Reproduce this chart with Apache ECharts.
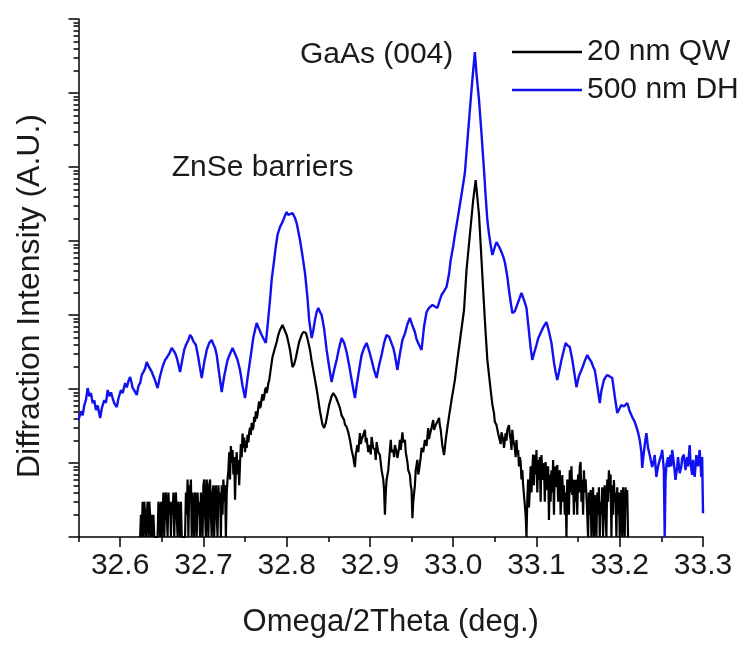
<!DOCTYPE html>
<html><head><meta charset="utf-8">
<script src="https://cdn.jsdelivr.net/npm/echarts@6/dist/echarts.min.js"></script>
<style>html,body{margin:0;padding:0;background:#fff}#c{width:744px;height:647px}</style>
</head><body><div id="c"></div>
<script>
const xMajorTicks = [32.6, 32.7, 32.8, 32.9, 33.0, 33.1, 33.2, 33.3];
const xMinorTicks = [32.55, 32.65, 32.75, 32.85, 32.95, 33.05, 33.15, 33.25];
const yMajorTicks = [1, 10, 100, 1000, 10000, 100000, 1000000, 10000000];
const yMinorTicks = [2,3,4,5,6,7,8,9, 20,30,40,50,60,70,80,90, 200,300,400,500,600,700,800,900,
  2000,3000,4000,5000,6000,7000,8000,9000, 20000,30000,40000,50000,60000,70000,80000,90000,
  200000,300000,400000,500000,600000,700000,800000,900000, 2000000,3000000,4000000,5000000,6000000,7000000,8000000,9000000];

const seriesNames = ['20 nm QW', '500 nm DH'];

// 20 nm QW (black)
const qwData = [
 [32.624,1],[32.625,2],[32.626,1],[32.627,3],[32.628,1],[32.629,3],[32.630,2],[32.631,1],[32.632,2],[32.633,3],
 [32.634,1],[32.635,3],[32.636,2],[32.637,1],[32.638,2],[32.639,1],[32.640,2],[32.641,1],[32.645,1],[32.646,3],
 [32.647,2],[32.648,1],[32.649,3],[32.650,1],[32.651,2],[32.652,4],[32.653,1],[32.654,3],[32.655,4],[32.656,2],
 [32.657,1],[32.658,4],[32.659,2],[32.660,3],[32.661,1],[32.662,3],[32.663,2],[32.664,4],[32.665,1],[32.666,3],
 [32.667,4],[32.668,2],[32.669,1],[32.670,3],[32.671,2],[32.672,1],[32.673,3],[32.674,1],[32.678,1],[32.679,4],
 [32.680,2],[32.681,6],[32.682,1],[32.683,5],[32.684,3],[32.685,6],[32.686,1],[32.687,4],[32.688,2],[32.689,1],
 [32.690,4],[32.691,3],[32.692,1],[32.693,4],[32.694,2],[32.695,3],[32.696,1],[32.697,4],[32.698,2],[32.699,1],
 [32.700,5],[32.701,6],[32.702,2],[32.703,1],[32.704,6],[32.705,3],[32.706,1],[32.707,5],[32.708,6],[32.709,2],
 [32.710,1],[32.711,4],[32.712,5],[32.713,1],[32.714,3],[32.715,5],[32.716,2],[32.717,1],[32.718,5],[32.719,3],
 [32.720,4],[32.721,1],[32.722,5],[32.723,2],[32.724,6],[32.725,3],[32.726,5],[32.727,1],[32.728,4],[32.729,6],
 [32.730,8],[32.731,14],[32.732,6],[32.733,17],[32.734,10],[32.735,15],[32.736,7],[32.737,12],[32.738,3.2],[32.739,9],
 [32.740,14],[32.741,7],[32.742,11],[32.743,5],[32.744,10],[32.745,18],[32.746,12],[32.747,25],[32.748,16],[32.749,22],
 [32.750,14],[32.751,20],[32.752,16],[32.753,24],[32.754,19],[32.755,26],[32.756,30],[32.757,24],[32.758,35],[32.759,28],
 [32.760,30],[32.761,42],[32.762,36],[32.763,50],[32.764,40],[32.765,45],[32.766,58],[32.767,68],[32.768,55],[32.769,60],
 [32.770,75],[32.771,85],[32.772,70],[32.773,78],[32.774,95],[32.775,105],[32.776,88],[32.777,100],[32.778,120],[32.779,130],
 [32.781,190],[32.783,271],[32.786,360],[32.788,432],[32.790,540],[32.792,627],[32.795,733],[32.797,690],[32.800,537],
 [32.802,430],[32.804,337],[32.807,198],[32.809,215],[32.811,262],[32.813,340],[32.815,432],[32.818,540],
 [32.820,589],[32.823,575],[32.825,480],[32.828,337],[32.830,240],[32.833,155],[32.836,100],[32.838,71],[32.840,50],
 [32.842,38],[32.843,33],[32.845,29.7],[32.847,34.8],[32.849,46],[32.851,61],[32.854,80],
 [32.856,88],[32.859,78],[32.862,64],[32.864,55],[32.866,44],[32.869,38],[32.870,33],[32.872,30.7],[32.874,26],[32.876,20.5],
 [32.878,15],[32.880,12],[32.881,10],[32.882,8.8],[32.883,13],[32.885,17.5],[32.886,14],[32.888,25.4],[32.889,18],[32.890,20.5],
 [32.892,24],[32.894,28],[32.895,19],[32.896,21.8],[32.898,14],[32.900,17.5],[32.901,13],[32.902,22.5],[32.904,16],[32.906,15],
 [32.907,11],[32.908,19.2],[32.910,14],[32.912,12.8],[32.913,10],
 [32.914,8],[32.916,6],[32.917,4.3],[32.918,2],[32.919,4],[32.920,5.9],[32.922,8],[32.923,11],[32.924,15],[32.925,20.5],
 [32.926,14],[32.928,15],[32.929,12],[32.930,17.5],[32.932,14],[32.933,11.7],[32.935,16],
 [32.936,20.5],[32.937,15],[32.939,26],[32.940,19],[32.942,20.5],[32.943,14],[32.945,10.3],[32.946,8],[32.948,6.9],[32.949,5],
 [32.950,4.3],[32.951,1.8],[32.952,3],[32.954,5],[32.955,8],[32.957,11],
 [32.958,7],[32.959,8],[32.961,12],[32.962,16],[32.964,14],[32.966,20.5],[32.968,17],[32.970,29.7],[32.971,21],[32.972,24],
 [32.974,30],[32.976,38],[32.977,28],[32.979,32.5],[32.981,36],[32.983,40.6],[32.984,32],[32.985,28],[32.987,17],
 [32.989,12.8],[32.990,16],[32.991,20.5],[32.993,30],[32.995,43],[32.998,71],[33.002,132],[33.005,247],[33.009,537],[33.013,1169],[33.016,4056],
 [33.020,12050],[33.024,35800],[33.027,66700],[33.031,22450],[33.034,5540],[33.038,856],[33.041,247],[33.045,96.9],
 [33.047,62],[33.049,47],[33.050,36],[33.052,32.5],[33.054,25],[33.056,24],[33.057,18],[33.058,26],[33.060,20.5],[33.061,16],
 [33.063,25.4],[33.064,20],[33.065,28],[33.067,32.5],[33.068,24],[33.069,20.5],[33.070,15],[33.071,28],[33.072,21],[33.074,16],
 [33.075,12],[33.076,20.5],[33.077,13],[33.078,15],[33.079,9],[33.080,12],[33.081,10.3],[33.082,6],[33.083,8],[33.084,5],
 [33.086,4.7],[33.087,2],[33.088,1],[33.089,3.2],[33.090,6],[33.091,2.5],[33.092,4.3],[33.093,9],[33.094,4],[33.095,8],
 [33.096,13],[33.097,5],[33.098,12.8],[33.099,7],[33.100,15],[33.101,4],[33.102,11],[33.103,6],[33.104,12],[33.105,3],
 [33.106,12.8],[33.107,7],[33.108,5.9],[33.109,10],[33.110,3],[33.111,10.3],[33.112,6],[33.113,4.3],[33.114,9],[33.115,1.7],
 [33.116,7],[33.117,3],[33.118,8],[33.119,4],[33.120,11],[33.121,2],[33.122,9],[33.123,4.7],[33.124,7],[33.125,9.4],
 [33.126,3],[33.127,5.9],[33.128,8],[33.129,2],[33.130,2.1],[33.131,6.9],[33.132,3],[33.133,5],[33.134,2],[33.135,4],
 [33.136,1],[33.137,6],[33.138,5.9],[33.139,2],[33.140,8],[33.141,4],[33.142,9],[33.143,3.7],[33.144,6],[33.145,2],
 [33.146,5.9],[33.147,3],[33.148,6],[33.149,2],[33.150,7],[33.151,4],[33.152,9],[33.153,10.3],[33.154,3],[33.155,6],
 [33.156,2],[33.157,8],[33.158,4],[33.159,6],[33.160,3.7],[33.161,2],[33.162,1],[33.163,4],[33.164,2],[33.165,4.3],
 [33.166,1],[33.167,3],[33.168,4.7],[33.169,1],[33.170,3.7],[33.171,2],[33.172,1],[33.173,4],[33.174,2],[33.175,4.7],
 [33.176,1],[33.177,3],[33.178,2],[33.179,4.7],[33.180,1],[33.181,3.2],[33.182,5],[33.183,2],[33.184,1],[33.185,6],
 [33.186,3],[33.187,8],[33.188,4],[33.189,7],[33.190,1],[33.191,5],[33.192,2],[33.193,5.9],[33.194,3],[33.195,4],
 [33.196,1],[33.197,4.7],[33.198,2],[33.199,4],[33.200,1],[33.201,3.2],[33.202,4.3],[33.203,1],[33.204,4.7],[33.205,2],
 [33.206,1],[33.207,4.7],[33.208,3],[33.209,4.3],[33.210,1]
];

// 500 nm DH (blue)
const dhData = [
 [32.550,38.1],[32.553,50],[32.555,44],[32.557,60.8],[32.559,72],[32.561,103],[32.563,80],[32.565,88],[32.567,64.7],[32.569,70],
 [32.571,52],[32.573,60],[32.576,40.6],[32.578,55],[32.581,71],[32.583,65],[32.585,96.9],[32.587,80],[32.589,90],[32.591,75.5],
 [32.593,64],[32.596,57.1],[32.598,75],[32.601,96.9],[32.603,88],[32.606,120],[32.608,105],[32.610,128],[32.612,145],
 [32.614,118],[32.615,103],[32.617,96],[32.620,83],[32.622,110],[32.624,120],[32.626,155],[32.628,170],[32.630,190],[32.632,232],
 [32.634,205],[32.636,195],[32.638,170],[32.641,140],[32.643,120],[32.645,103],[32.648,150],[32.651,200],
 [32.654,247],[32.656,265],[32.659,300],[32.662,358],[32.665,320],[32.667,288],[32.669,240],[32.672,170],[32.675,260],[32.677,340],
 [32.679,393],[32.682,460],[32.684,537],[32.686,500],[32.688,440],[32.691,393],[32.694,260],[32.696,190],[32.698,141],[32.701,230],[32.704,337],
 [32.707,420],[32.710,459],[32.712,400],[32.714,360],[32.716,288],[32.719,160],[32.722,91],[32.725,150],[32.729,247],[32.732,300],[32.735,358],
 [32.738,300],[32.741,247],[32.744,180],[32.747,110],[32.750,75.5],[32.753,140],[32.757,288],[32.760,500],[32.764,780],
 [32.767,640],[32.770,537],[32.773,460],[32.775,419],[32.777,700],[32.780,1595],[32.782,3000],[32.785,5540],[32.787,8500],[32.789,12050],[32.792,15500],[32.795,18070],
 [32.798,22000],[32.800,24660],[32.802,22500],[32.804,21780],
 [32.807,23890],[32.810,20500],[32.812,17500],[32.816,10320],[32.819,6300],[32.822,3697],[32.825,1700],[32.827,856],[32.830,489],[32.832,620],[32.834,856],[32.836,1100],[32.838,1244],
 [32.840,1100],[32.842,1000],[32.845,650],[32.848,337],[32.851,200],[32.854,124],[32.857,180],[32.860,247],[32.863,360],[32.866,489],[32.869,420],[32.872,316],[32.875,210],[32.877,155],[32.880,100],[32.882,75.5],[32.884,110],[32.887,181],
 [32.890,288],[32.893,360],[32.896,419],[32.899,330],[32.902,247],[32.905,180],[32.908,141],[32.911,210],[32.914,288],[32.917,420],[32.920,537],[32.923,510],[32.925,489],[32.928,360],[32.930,288],[32.933,181],
 [32.936,300],[32.939,459],[32.942,560],[32.945,750],[32.948,911],[32.951,720],[32.954,589],[32.956,470],[32.959,393],[32.962,337],[32.965,700],[32.968,1098],[32.971,1250],[32.975,1365],[32.978,1300],[32.981,1244],[32.984,1600],[32.986,1862],
 [32.989,2100],[32.992,2390],[32.995,3600],[32.997,5540],[33.000,8500],[33.002,12050],[33.005,19000],[33.008,30650],[33.011,50000],[33.014,82960],[33.017,220000],[33.020,589000],[33.023,1500000],[33.026,3580000],[33.028,1800000],[33.031,804000],
 [33.034,280000],[33.037,91000],[33.039,40000],[33.041,19230],[33.043,12500],[33.045,8830],[33.047,6470],[33.050,8300],[33.052,9690],[33.055,8400],[33.057,7550],[33.060,6200],[33.062,5200],[33.065,3300],[33.067,2177],
 [33.069,1500],[33.071,1064],[33.074,1120],[33.076,1169],[33.079,1600],[33.082,1983],[33.085,1600],[33.088,1244],[33.091,600],[33.093,360],[33.095,247],[33.097,300],[33.100,393],[33.102,480],[33.105,571],[33.108,680],[33.112,804],[33.115,600],[33.118,419],
 [33.121,230],[33.123,170],[33.125,132],[33.128,190],[33.130,247],[33.133,340],[33.135,419],[33.137,390],[33.140,370],[33.143,250],[33.146,150],[33.148,106],[33.151,150],[33.155,192],[33.158,240],[33.161,288],[33.164,250],[33.166,232],[33.168,200],[33.170,181],
 [33.173,110],[33.176,64.7],[33.178,95],[33.181,132],[33.183,145],[33.185,155],[33.188,148],[33.191,141],[33.194,80],[33.197,47.4],[33.200,55],[33.202,60.8],[33.205,58],[33.209,64.7],[33.212,50],[33.215,41.8],[33.218,36],[33.220,30.7],
 [33.222,26],[33.224,20.5],[33.226,14],[33.227,8.56],[33.229,14],[33.230,17.5],[33.232,25.4],[33.234,16],[33.236,12.8],[33.238,10],[33.239,8.83],[33.241,11],[33.242,12.8],[33.243,9],[33.244,6.47],[33.246,9],[33.248,11],
 [33.250,13],[33.251,15],[33.253,8],[33.254,1],[33.255,6],[33.256,9.4],[33.258,12],[33.259,8.8],[33.260,11],[33.261,12.8],[33.262,9],[33.263,15],[33.265,10],[33.267,5.9],[33.269,9],[33.270,12],[33.272,7.3],[33.274,9],[33.275,11.7],
 [33.277,13],[33.279,8],[33.281,12],[33.282,9],[33.284,17.5],[33.285,10],[33.287,6.9],[33.288,11],[33.290,6.47],[33.291,9],[33.292,12.8],[33.294,9],[33.296,15],[33.297,10],[33.298,6.47],[33.299,12],[33.300,2.1]
];

const annotations = [
  {text: 'ZnSe barriers', x: 32.771, y: 97000},
  {text: 'GaAs (004)', x: 32.908, y: 3260000}
];

const FONT = "'Liberation Sans', Arial, sans-serif";
const chart = echarts.init(document.getElementById('c'), null, {renderer: 'canvas'});
const axisLineStyle = {color: '#000', width: 1.5};
chart.setOption({
  animation: false,
  backgroundColor: '#fff',
  textStyle: {fontFamily: FONT},
  grid: {left: 78.5, right: 41, top: 19, bottom: 110},
  legend: {
    orient: 'vertical', left: 507, top: 32, itemGap: 8,
    itemWidth: 70, itemHeight: 2.5, icon: 'rect',
    textStyle: {fontFamily: FONT, fontSize: 30, color: '#1a1a1a'},
    data: seriesNames
  },
  xAxis: [{
    type: 'value', min: 32.55, max: 33.3,
    name: 'Omega/2Theta (deg.)', nameLocation: 'middle', nameGap: 70,
    nameTextStyle: {fontFamily: FONT, fontSize: 31, color: '#1a1a1a'},
    axisLine: {show: true, lineStyle: axisLineStyle},
    axisTick: {show: true, inside: false, length: 10, customValues: xMajorTicks, lineStyle: axisLineStyle},
    axisLabel: {show: true, customValues: xMajorTicks, margin: 14, fontSize: 30, color: '#1a1a1a', fontFamily: FONT,
      formatter: v => Number(v).toFixed(1)},
    splitLine: {show: false}
  }, {
    type: 'value', min: 32.55, max: 33.3, position: 'bottom',
    axisLine: {show: false},
    axisTick: {show: true, length: 5, customValues: xMinorTicks, lineStyle: axisLineStyle},
    axisLabel: {show: false},
    splitLine: {show: false}
  }],
  yAxis: [{
    type: 'log', logBase: 10, min: 1, max: 10000000,
    name: 'Diffraction Intensity (A.U.)', nameLocation: 'middle', nameGap: 32,
    nameTextStyle: {fontFamily: FONT, fontSize: 32, color: '#1a1a1a', padding: [0, 36, 0, 0]},
    axisLine: {show: true, lineStyle: axisLineStyle},
    axisTick: {show: true, length: 10, customValues: yMajorTicks, lineStyle: axisLineStyle},
    axisLabel: {show: false},
    splitLine: {show: false}
  }, {
    type: 'log', logBase: 10, min: 1, max: 10000000, position: 'left',
    axisLine: {show: false},
    axisTick: {show: true, length: 5, customValues: yMinorTicks, lineStyle: axisLineStyle},
    axisLabel: {show: false},
    splitLine: {show: false}
  }],
  series: [{
    name: seriesNames[0], type: 'line', data: qwData, showSymbol: false, symbol: 'none',
    xAxisIndex: 0, yAxisIndex: 0,
    lineStyle: {color: '#000', width: 2.2}, itemStyle: {color: '#000'}, z: 3
  }, {
    name: seriesNames[1], type: 'line', data: dhData, showSymbol: false, symbol: 'none',
    xAxisIndex: 0, yAxisIndex: 0,
    lineStyle: {color: '#1010f0', width: 2.4}, itemStyle: {color: '#1010f0'}, z: 2
  }]
});

const g = annotations.map(a => {
  const p = chart.convertToPixel({xAxisIndex: 0, yAxisIndex: 0}, [a.x, a.y]);
  return {type: 'text', x: p[0], y: p[1],
    style: {text: a.text, fontFamily: FONT, fontSize: 30, fill: '#1a1a1a', align: 'center', verticalAlign: 'middle'}};
});
chart.setOption({graphic: g});
</script></body></html>
